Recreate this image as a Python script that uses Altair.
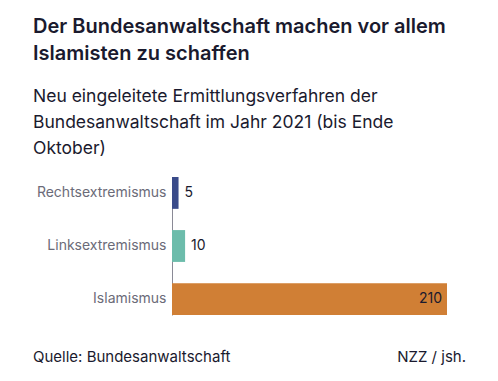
import altair as alt
import pandas as pd

categories = ["Rechtsextremismus", "Linksextremismus", "Islamismus"]
values = [5, 10, 210]
colors = ["#3a4b8a", "#6cbcab", "#d07f35"]

title_lines = ["Der Bundesanwaltschaft machen vor allem", "Islamisten zu schaffen"]
subtitle_lines = ["Neu eingeleitete Ermittlungsverfahren der",
                  "Bundesanwaltschaft im Jahr 2021 (bis Ende",
                  "Oktober)"]
source = "Quelle: Bundesanwaltschaft"
credit = "NZZ / jsh."

FONT = "Inter"
df = pd.DataFrame({"cat": categories, "val": values, "col": colors})
df["inside"] = df["val"] > 100

y_enc = alt.Y("cat:N", sort=categories, title=None,
              scale=alt.Scale(paddingInner=0.4, paddingOuter=0),
              axis=alt.Axis(domain=True, domainColor="#8a8a96", domainWidth=1,
                            ticks=False, labelPadding=6, labelFont=FONT,
                            labelFontSize=14, labelColor="#6b6b78"))
x_enc = alt.X("val:Q", scale=alt.Scale(domain=[0, 210], nice=False), axis=None)

bars = alt.Chart(df).mark_bar().encode(
    x=x_enc, y=y_enc, color=alt.Color("col:N", scale=None))

labels_out = alt.Chart(df).transform_filter("!datum.inside").mark_text(
    align="left", dx=6, font=FONT, fontSize=14, color="#1a1a2e").encode(
    x=x_enc, y=y_enc, text="val:Q")
labels_in = alt.Chart(df).transform_filter("datum.inside").mark_text(
    align="right", dx=-5, font=FONT, fontSize=14, color="#1a1a2e").encode(
    x=x_enc, y=y_enc, text="val:Q")

foot = pd.DataFrame({"t": [source]})
foot2 = pd.DataFrame({"t": [credit]})
src = alt.Chart(foot).mark_text(align="left", baseline="alphabetic", font=FONT,
                                fontSize=15, color="#1a1a2e").encode(
    x=alt.value(-139), y=alt.value(185), text="t:N")
cred = alt.Chart(foot2).mark_text(align="right", baseline="alphabetic", font=FONT,
                                  fontSize=15, color="#1a1a2e").encode(
    x=alt.value(294), y=alt.value(185), text="t:N")

chart = alt.layer(bars, labels_out, labels_in, src, cred).properties(
    width=275, height=138,
    title=alt.TitleParams(
        text=title_lines, subtitle=subtitle_lines, anchor="start", frame="group",
        dx=-139, font=FONT, fontSize=20, fontWeight=600, color="#1a1a2e",
        lineHeight=27, subtitleFont=FONT, subtitleFontSize=17.5,
        subtitleColor="#1a1a2e", subtitleLineHeight=26, subtitlePadding=24,
        offset=20),
    autosize=alt.AutoSizeParams(type="none"),
    padding={"left": 164, "top": 169, "right": 30, "bottom": 60},
).configure_view(stroke=None)

chart.save("out.html", embed_options={"renderer": "svg", "actions": False})
